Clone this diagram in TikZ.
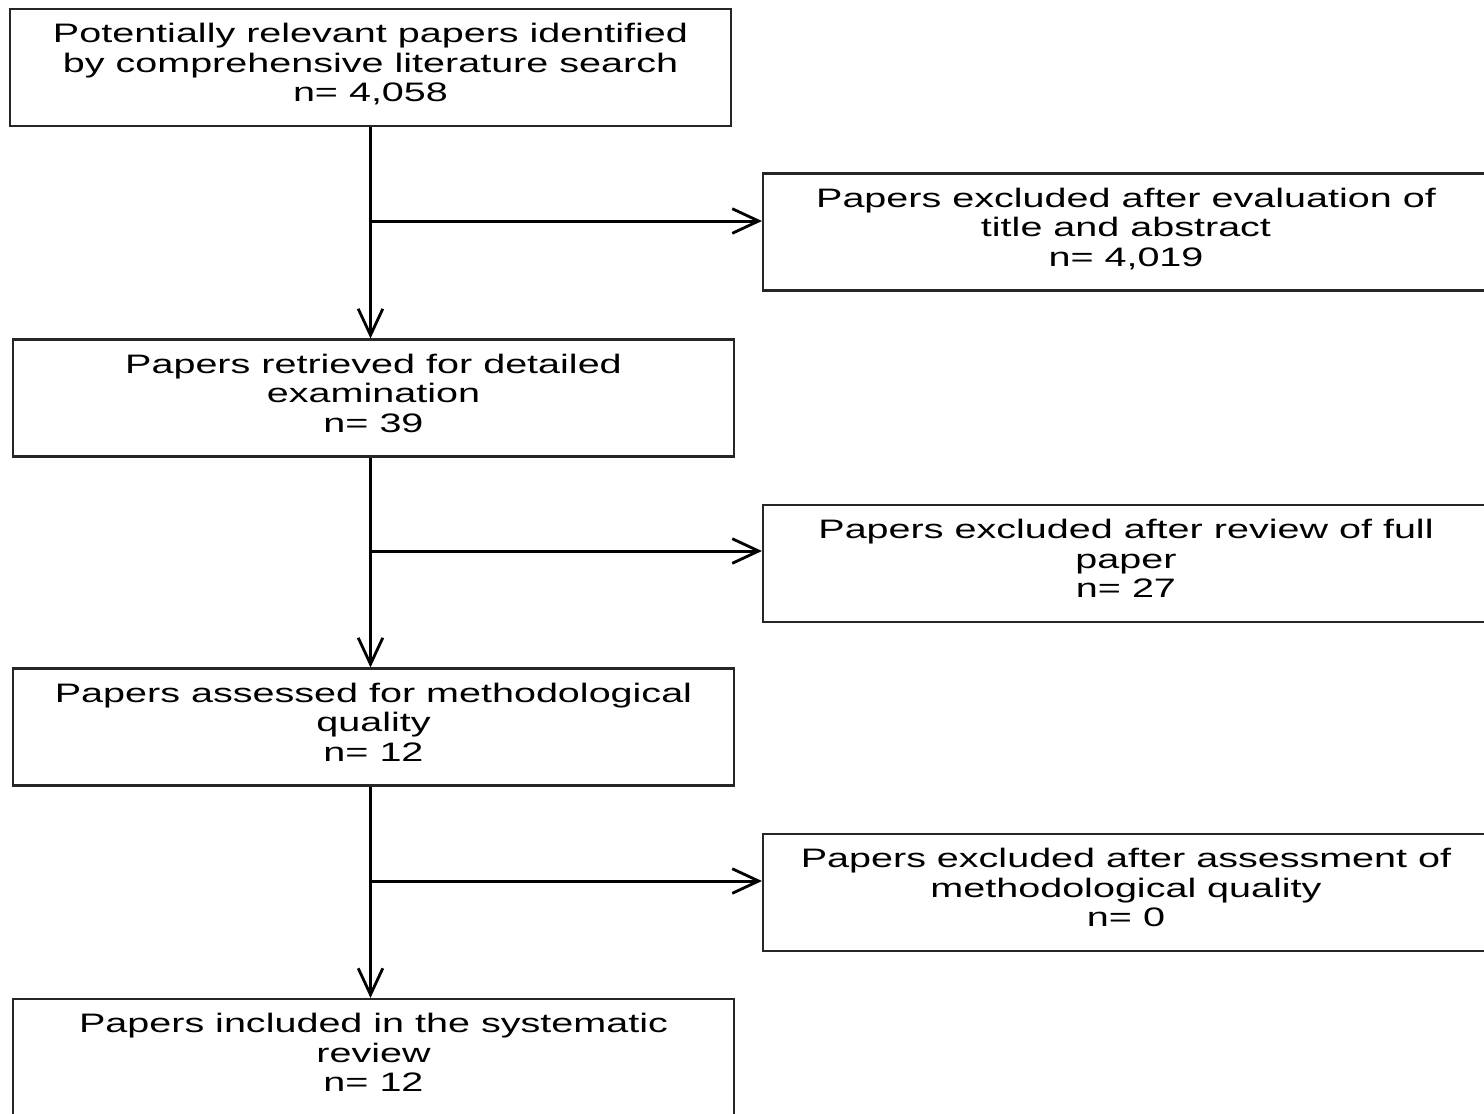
\documentclass[tikz,border=0pt]{standalone}
\usepackage{fontspec}
\setmainfont[FakeStretch=1.48]{Liberation Sans}
\usetikzlibrary{arrows.meta,positioning}

\begin{document}
\begin{tikzpicture}[
    stage/.style={rectangle, draw=black!85, line width=0.6pt, minimum width=7.21cm,
                  minimum height=1.17cm, align=center, inner sep=0pt, text depth=2.8pt,
                  font=\fontsize{7.6}{8.4}\selectfont},
    excl/.style={stage, minimum width=7.26cm},
    arr/.style={-{Straight Barb[length=7.5pt,width=7pt,line width=0.8pt]}, line width=0.85pt}
  ]
  \clip (0,0) rectangle (14.84,-11.13);

  % Main stages
  \node[stage] (search)   at (3.705,-0.675) {Potentially relevant papers identified\\by comprehensive literature search\\n= 4,058};
  \node[stage] (retrieve) at (3.735,-3.98)  {Papers retrieved for detailed\\examination\\n= 39};
  \node[stage] (assess)   at (3.735,-7.27)  {Papers assessed for methodological\\quality\\n= 12};
  \node[stage] (include)  at (3.735,-10.575) {Papers included in the systematic\\review\\n= 12};

  % Exclusions
  \node[excl] (exTitle)  at (11.26,-2.32)  {Papers excluded after evaluation of\\title and abstract\\n= 4,019};
  \node[excl] (exFull)   at (11.26,-5.635) {Papers excluded after review of full\\paper\\n= 27};
  \node[excl] (exQual)   at (11.26,-8.925) {Papers excluded after assessment of\\methodological quality\\n= 0};

  % Branch points
  \coordinate (b1) at (3.705,-2.21);
  \coordinate (b2) at (3.705,-5.51);
  \coordinate (b3) at (3.705,-8.81);

  % Connections
  \draw[arr] (search.south) -- (search.south |- retrieve.north);
  \draw[arr] (search.south |- retrieve.south) -- (search.south |- assess.north);
  \draw[arr] (search.south |- assess.south) -- (search.south |- include.north);
  \draw[arr] (b1) -- (b1 -| exTitle.west);
  \draw[arr] (b2) -- (b2 -| exFull.west);
  \draw[arr] (b3) -- (b3 -| exQual.west);
\end{tikzpicture}
\end{document}
